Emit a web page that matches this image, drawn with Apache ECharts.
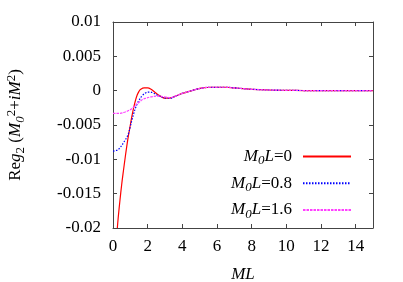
<!DOCTYPE html>
<html><head><meta charset="utf-8">
<script src="https://cdn.jsdelivr.net/npm/echarts@6/dist/echarts.min.js"></script>
<style>html,body{margin:0;padding:0;background:#fff}#c{width:403px;height:282px}</style>
</head><body><div id="c"></div>
<script>
var seriesNames = ['M0L=0', 'M0L=0.8', 'M0L=1.6'];
var redX = [0.25,0.3,0.4,0.5,0.6,0.7,0.8,0.9,1.0,1.1,1.2,1.3,1.4,1.5,1.6,1.8,2.0,2.2,2.4,2.6,2.8,3.0,3.2,3.4,3.6,3.8,4.0,4.4,4.8,5.2,5.6,6.0,6.5,7.0,7.5,8.0,9.0,10,11,12,13,14,15];
var redY = [-0.0200,-0.0185,-0.0160,-0.0137,-0.0117,-0.0098,-0.0080,-0.0064,-0.0050,-0.0036,-0.0024,-0.0014,-0.0006,-0.0001,0.0002,0.0004,0.0004,0.0002,-0.0002,-0.0006,-0.0009,-0.0011,-0.0011,-0.0010,-0.0008,-0.0006,-0.0004,-0.0001,0.0002,0.0004,0.0005,0.0005,0.0005,0.0004,0.0003,0.0002,0.0001,0.00005,0.00002,0,0,0,0];
var blueX = [0,0.2,0.3,0.4,0.5,0.6,0.7,0.8,0.9,1.0,1.1,1.2,1.3,1.4,1.5,1.7,1.9,2.1,2.3,2.5,2.7,2.9,3.1,3.3,3.6,3.8,4.0,4.4,4.8,5.2,5.6,6.0,6.5,7.0,7.5,8.0,9.0,10,11,12,13,14,15];
var blueY = [-0.0088,-0.0087,-0.0086,-0.0083,-0.0080,-0.0076,-0.0072,-0.0068,-0.0062,-0.0052,-0.0042,-0.0033,-0.0025,-0.0019,-0.0014,-0.0007,-0.0003,-0.0002,-0.0003,-0.0006,-0.0008,-0.0010,-0.0011,-0.0011,-0.0008,-0.0006,-0.0004,-0.0001,0.0002,0.0004,0.0005,0.0005,0.0005,0.0004,0.0003,0.0002,0.0001,0.00005,0.00002,0,0,0,0];
var magX = [0,0.4,0.7,0.9,1.1,1.3,1.5,1.7,1.9,2.2,2.6,3.0,3.3,3.6,3.8,4.0,4.4,4.8,5.2,5.6,6.0,6.5,7.0,7.5,8.0,9.0,10,11,12,13,14,15];
var magY = [-0.0033,-0.0033,-0.0031,-0.0029,-0.0026,-0.0021,-0.0017,-0.0013,-0.0011,-0.0009,-0.0008,-0.0009,-0.0010,-0.0008,-0.0006,-0.0004,-0.0001,0.0002,0.0004,0.0005,0.0005,0.0005,0.0004,0.0003,0.0002,0.0001,0.00005,0.00002,0,0,0,0];
var xTicks = [0,2,4,6,8,10,12,14];
var yTicks = [-0.02,-0.015,-0.01,-0.005,0,0.005,0.01];

function zip(a,b){return a.map(function(v,i){return [v,b[i]];});}
var FONT = 'Liberation Serif';
var rich = {
  n:{fontFamily:FONT,fontSize:17,color:'#000',lineHeight:22},
  i:{fontFamily:FONT,fontSize:17,fontStyle:'italic',color:'#000',lineHeight:22},
  s:{fontFamily:FONT,fontSize:13,fontStyle:'italic',color:'#000',lineHeight:22,verticalAlign:'bottom',padding:[6,0,0,0]},
  sr:{fontFamily:FONT,fontSize:13,color:'#000',lineHeight:22,verticalAlign:'bottom',padding:[6,0,0,0]},
  p:{fontFamily:FONT,fontSize:13,color:'#000',lineHeight:22,verticalAlign:'top',padding:[0,0,8,0]},
  g:{width:6,lineHeight:22}
};
var legendLabel = {
  'M0L=0':'{i|M}{s|0}{i|L}{n|=0}{g|}',
  'M0L=0.8':'{i|M}{s|0}{i|L}{n|=0.8}{g|}',
  'M0L=1.6':'{i|M}{s|0}{i|L}{n|=1.6}{g|}'
};
var axisLine = {onZero:false, lineStyle:{color:'#444',width:1}};
var tick = {inside:true,length:4,lineStyle:{color:'#444'}};
var chart = echarts.init(document.getElementById('c'));
chart.setOption({
  animation:false,
  backgroundColor:'#fff',
  grid:{left:113,right:30,top:22,bottom:54,containLabel:false,outerBoundsMode:'none'},
  legend:{
    orient:'vertical', right:51, top:148, align:'right', padding:0,
    itemWidth:48, itemHeight:10, itemGap:7.2,
    data:seriesNames,
    itemStyle:{opacity:0},
    formatter:function(n){return legendLabel[n];},
    textStyle:{rich:rich}
  },
  xAxis:[{
    type:'value', min:0, max:15, interval:2,
    name:'{i|ML}', nameLocation:'middle', nameGap:36, nameTextStyle:{rich:rich},
    axisLine:axisLine, axisTick:tick,
    axisLabel:{fontFamily:FONT,fontSize:17,color:'#000',margin:10,
      formatter:function(v){return xTicks.indexOf(v)>=0?String(v):'';}},
    splitLine:{show:false}
  },{
    type:'value', min:0, max:15, interval:2, position:'top',
    axisLine:axisLine, axisTick:tick,
    axisLabel:{show:false}, splitLine:{show:false}
  }],
  yAxis:[{
    type:'value', min:-0.02, max:0.01, interval:0.005,
    name:'{n|Re}{i|g}{sr|2}{n| (}{i|M}{s|0}{p|2}{n|+}{i|iM}{p|2}{n|)}',
    nameLocation:'middle', nameGap:86, nameRotate:90, nameTextStyle:{rich:rich},
    axisLine:axisLine, axisTick:tick,
    axisLabel:{fontFamily:FONT,fontSize:17,color:'#000',margin:12,
      formatter:function(v){var r=Math.round(v*1000)/1000; return yTicks.indexOf(r)>=0?String(r):'';}},
    splitLine:{show:false}
  },{
    type:'value', min:-0.02, max:0.01, interval:0.005, position:'right',
    axisLine:axisLine, axisTick:tick,
    axisLabel:{show:false}, splitLine:{show:false}
  }],
  series:[
    {name:seriesNames[0], type:'line', smooth:0.4, symbol:'none', clip:true,
     data:zip(redX,redY), lineStyle:{color:'#ff0000',width:1.2}, itemStyle:{color:'#ff0000'}},
    {name:seriesNames[1], type:'line', smooth:0.4, symbol:'none', clip:true,
     data:zip(blueX,blueY), lineStyle:{color:'#0000ff',width:1.2,type:[1.5,1.5]}, itemStyle:{color:'#0000ff'}},
    {name:seriesNames[2], type:'line', smooth:0.4, symbol:'none', clip:true,
     data:zip(magX,magY), lineStyle:{color:'#ff40ff',width:1.2,type:[2.5,1]}, itemStyle:{color:'#ff40ff'}}
  ]
});
</script></body></html>
